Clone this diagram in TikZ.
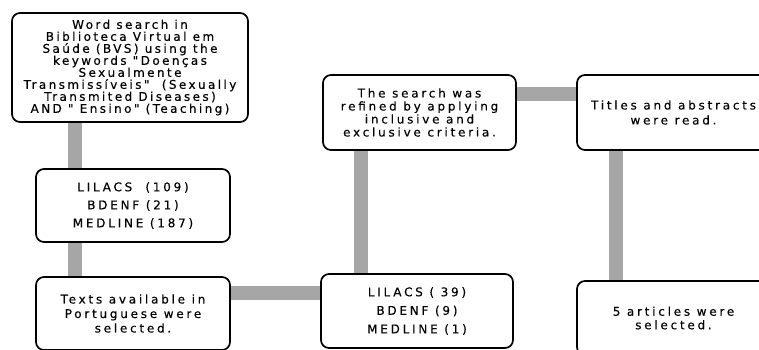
\documentclass[tikz,border=0pt]{standalone}
\usepackage{fontspec}
\setmainfont{DejaVu Sans}
\newfontfamily\lsfont[LetterSpace=20,FakeBold=0.3]{DejaVu Sans}
\newfontfamily\lswide[LetterSpace=23,FakeBold=0.3]{DejaVu Sans}
\usetikzlibrary{calc}
\pgfdeclarelayer{background}
\pgfsetlayers{background,main}
\tikzset{
  box/.style={draw=black, line width=1.7pt, rounded corners=8pt, fill=white, align=center, inner sep=0pt},
  conn/.style={draw=black!35, line width=14pt},
}
\begin{document}
\begin{tikzpicture}[x=1pt,y=-1pt]
\useasboundingbox (0,0) rectangle (759,349);
\node[box, minimum width=236pt, minimum height=109pt, font=\lsfont\fontsize{12}{12}\selectfont] (b1) at (130,67.5)
 {Word search in\\Biblioteca Virtual em\\Saúde (BVS) using the\\keywords "Doenças\\Sexualmente\\Transmissíveis"\ \ (Sexually\\Transmited Diseases)\\AND " Ensino" (Teaching)};
\node[box, minimum width=194pt, minimum height=73pt, font=\lswide\fontsize{12}{18}\selectfont] (b2) at (133,205.5)
 {LILACS\ \ (109)\\BDENF (21)\\MEDLINE (187)};
\node[box, minimum width=194pt, minimum height=73pt, font=\lswide\fontsize{12}{14.5}\selectfont] (b3) at (133,313.5)
 {Texts available in\\Portuguese were\\selected.};
\node[box, minimum width=192pt, minimum height=74pt, font=\lswide\fontsize{12}{18.5}\selectfont] (b4) at (417,311)
 {LILACS ( 39)\\BDENF (9)\\MEDLINE (1)};
\node[box, minimum width=193pt, minimum height=75pt, font=\lswide\fontsize{12}{13}\selectfont] (b5) at (419.5,112.5)
 {The search was\\refined by applying\\inclusive and\\exclusive criteria.};
\node[box, minimum width=193pt, minimum height=75pt, font=\lswide\fontsize{12}{15}\selectfont] (b6) at (673.5,112.5)
 {Titles and abstracts\\were read.};
\node[box, minimum width=193pt, minimum height=74pt, font=\lswide\fontsize{12}{13.5}\selectfont] (b7) at (673.5,318)
 {5 articles were\\selected.};
\coordinate (x1) at (75,0);
\coordinate (y2) at (0,293);
\coordinate (x3) at (361,0);
\coordinate (y4) at (0,94);
\coordinate (x5) at (616,0);
\begin{pgfonlayer}{background}
\draw[conn] (b1.south -| x1) -- (b2.north -| x1);
\draw[conn] (b2.south -| x1) -- (b3.north -| x1);
\draw[conn] (b3.east |- y2) -- (b4.west |- y2);
\draw[conn] (b4.north -| x3) -- (b5.south -| x3);
\draw[conn] (b5.east |- y4) -- (b6.west |- y4);
\draw[conn] (b6.south -| x5) -- (b7.north -| x5);
\end{pgfonlayer}
\end{tikzpicture}
\end{document}
